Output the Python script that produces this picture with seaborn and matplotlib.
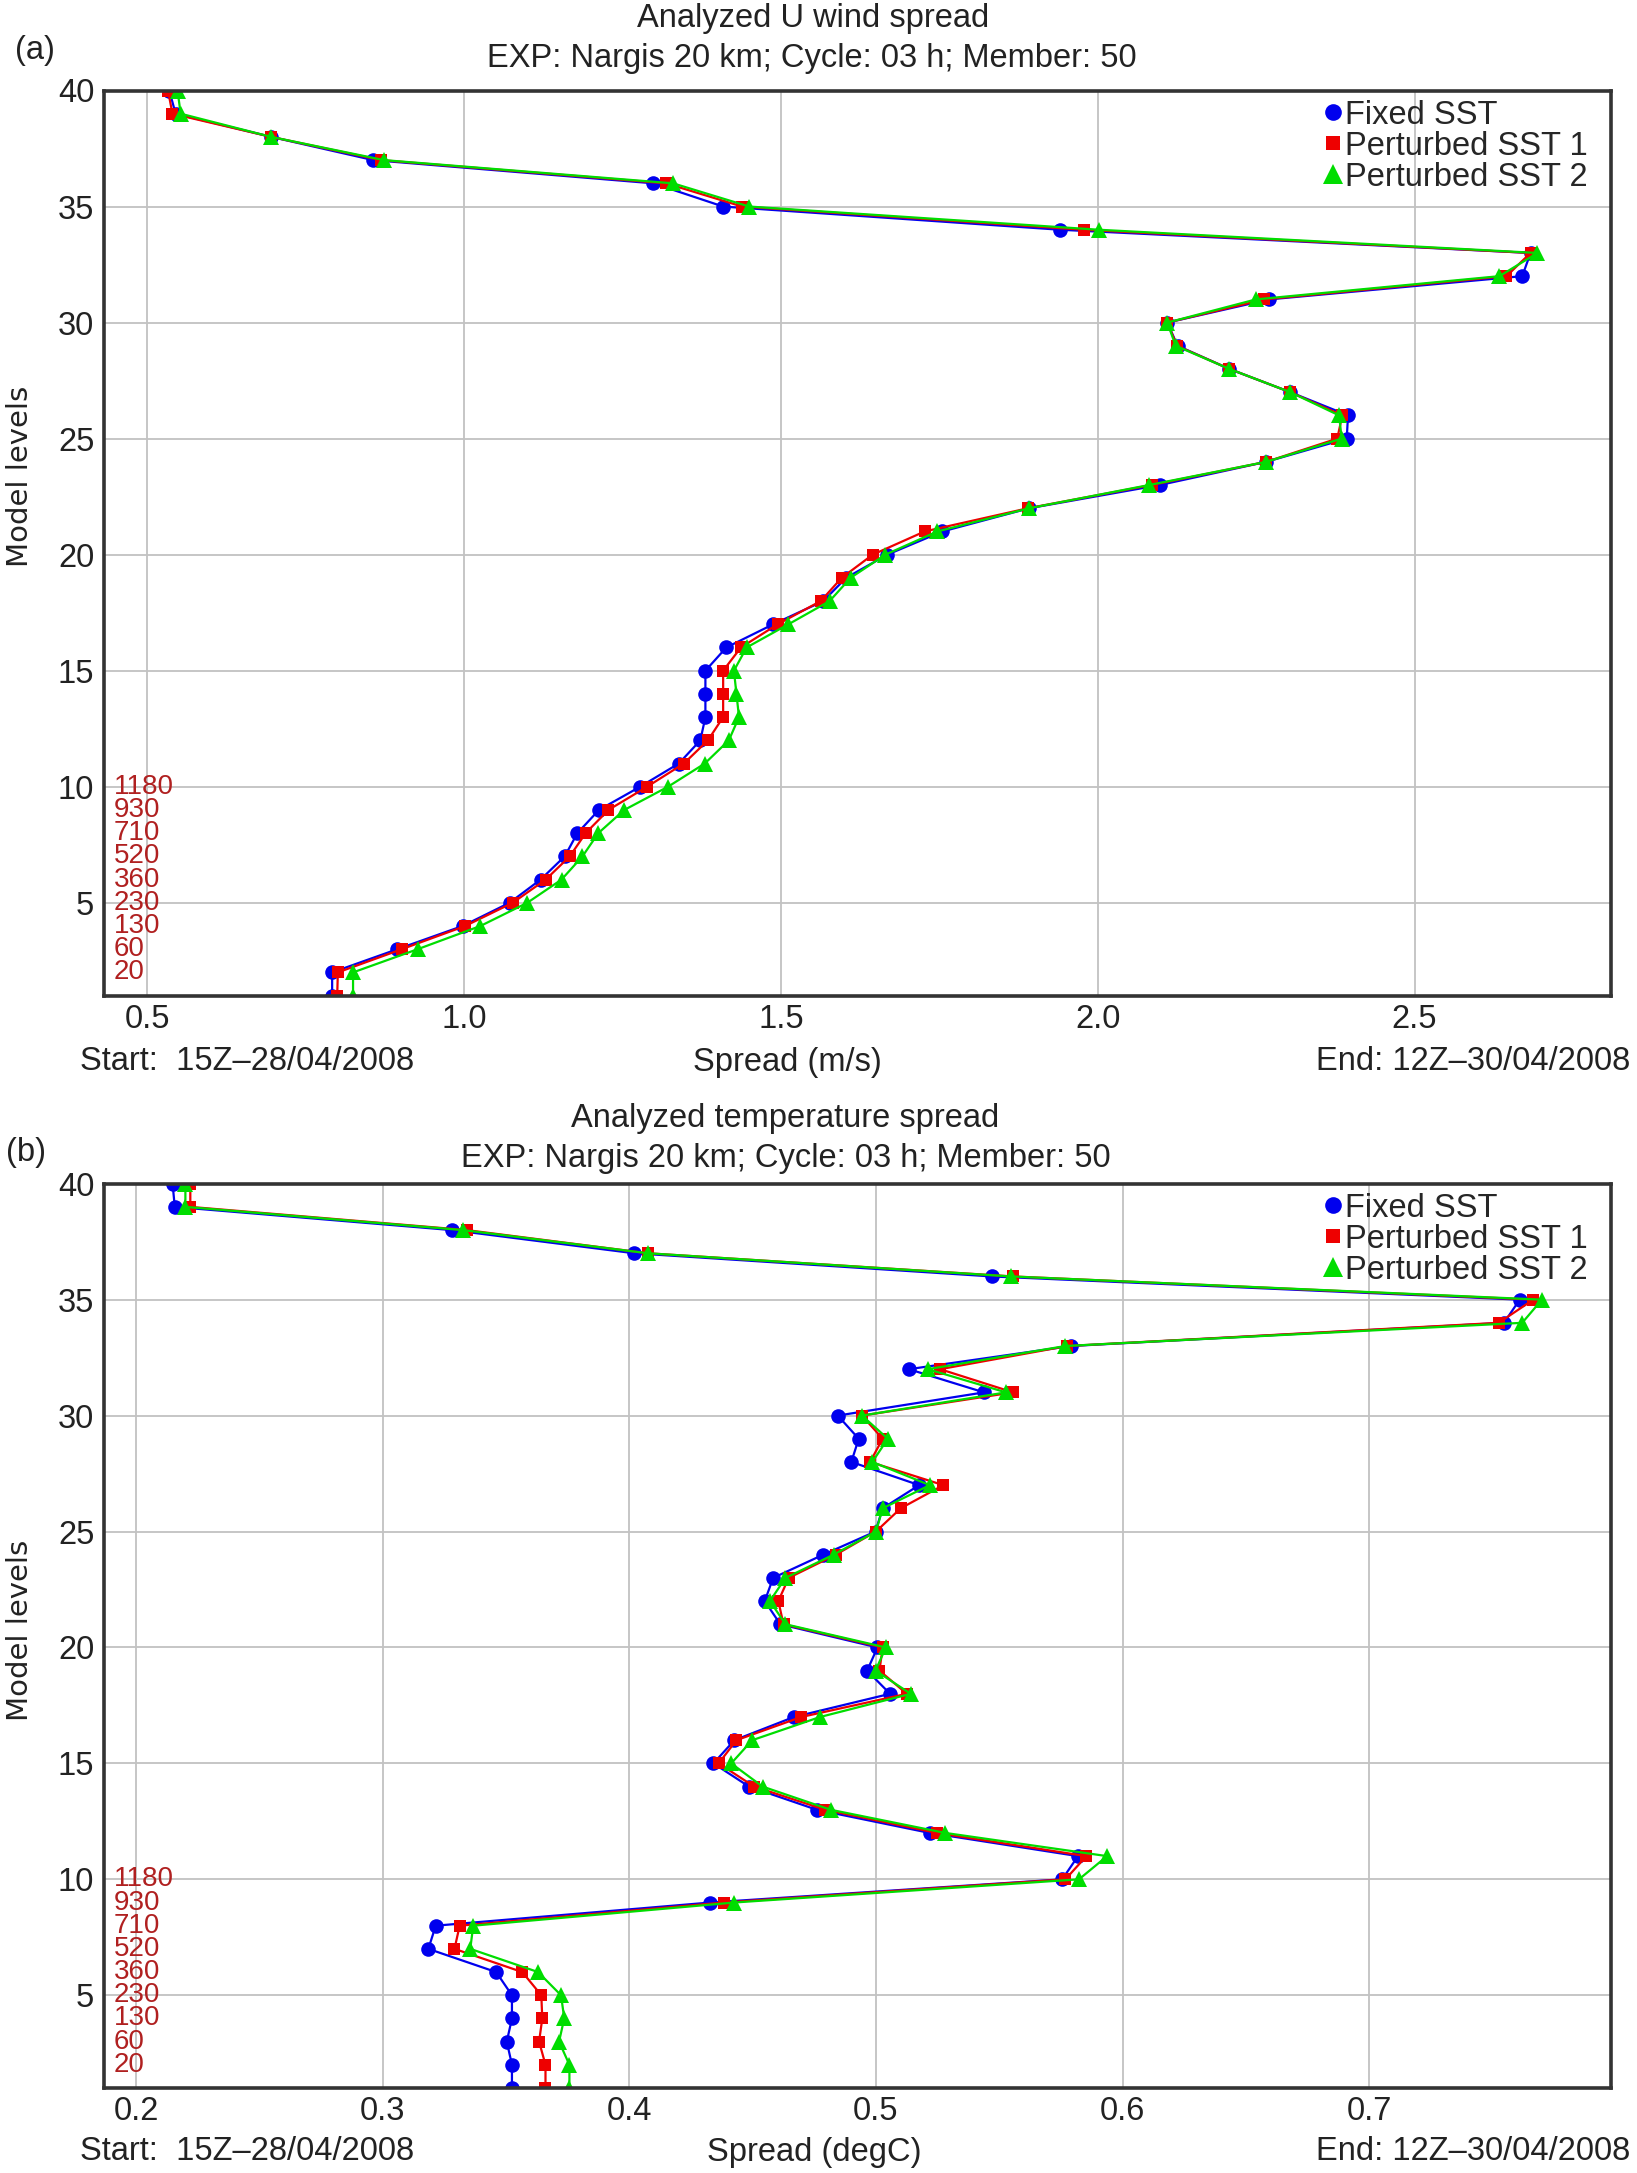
import numpy as np
import pandas as pd
import matplotlib.pyplot as plt
from matplotlib.lines import Line2D
from matplotlib import transforms
import seaborn as sns

# model levels 1..40 (bottom to top)
levels = list(range(1, 41))
run_names = ["Fixed SST", "Perturbed SST 1", "Perturbed SST 2"]

# (a) analyzed U wind spread (m/s)
u_fixed = [0.792, 0.792, 0.895, 0.998, 1.072, 1.121, 1.159, 1.179, 1.213, 1.278,
           1.339, 1.373, 1.381, 1.381, 1.381, 1.414, 1.488, 1.567, 1.603, 1.668,
           1.755, 1.892, 2.098, 2.266, 2.393, 2.395, 2.304, 2.208, 2.126, 2.110,
           2.271, 2.670, 2.683, 1.941, 1.409, 1.299, 0.857, 0.696, 0.545, 0.535]
u_pert1 = [0.800, 0.801, 0.902, 1.002, 1.077, 1.129, 1.167, 1.192, 1.228, 1.289,
           1.347, 1.385, 1.409, 1.409, 1.409, 1.437, 1.495, 1.563, 1.596, 1.645,
           1.727, 1.890, 2.085, 2.266, 2.378, 2.386, 2.304, 2.208, 2.125, 2.110,
           2.263, 2.645, 2.683, 1.978, 1.439, 1.319, 0.869, 0.696, 0.540, 0.533]
u_pert2 = [0.825, 0.825, 0.927, 1.026, 1.100, 1.154, 1.187, 1.212, 1.253, 1.322,
           1.380, 1.418, 1.434, 1.430, 1.426, 1.446, 1.512, 1.577, 1.610, 1.665,
           1.747, 1.892, 2.081, 2.266, 2.385, 2.381, 2.304, 2.208, 2.123, 2.110,
           2.250, 2.634, 2.694, 2.002, 1.450, 1.330, 0.874, 0.696, 0.553, 0.548]

# (b) analyzed temperature spread (degC)
t_fixed = [0.3524, 0.3524, 0.3503, 0.3524, 0.3524, 0.3460, 0.3185, 0.3215, 0.4329, 0.5755,
           0.5819, 0.5218, 0.4760, 0.4485, 0.4341, 0.4426, 0.4667, 0.5057, 0.4964, 0.5006,
           0.4612, 0.4549, 0.4583, 0.4786, 0.4998, 0.5027, 0.5175, 0.4900, 0.4930, 0.4845,
           0.5438, 0.5133, 0.5790, 0.7546, 0.7610, 0.5470, 0.4020, 0.3280, 0.2157, 0.2148]
t_pert1 = [0.3660, 0.3660, 0.3634, 0.3647, 0.3643, 0.3566, 0.3291, 0.3312, 0.4384, 0.5768,
           0.5853, 0.5247, 0.4794, 0.4506, 0.4362, 0.4434, 0.4697, 0.5125, 0.5014, 0.5027,
           0.4625, 0.4604, 0.4646, 0.4837, 0.5000, 0.5100, 0.5273, 0.4976, 0.5027, 0.4943,
           0.5556, 0.5260, 0.5776, 0.7525, 0.7665, 0.5556, 0.4075, 0.3340, 0.2220, 0.2220]
t_pert2 = [0.3757, 0.3757, 0.3715, 0.3736, 0.3723, 0.3630, 0.3355, 0.3367, 0.4426, 0.5823,
           0.5937, 0.5281, 0.4816, 0.4540, 0.4413, 0.4498, 0.4773, 0.5141, 0.4998, 0.5040,
           0.4633, 0.4570, 0.4633, 0.4828, 0.5000, 0.5027, 0.5218, 0.4985, 0.5048, 0.4943,
           0.5527, 0.5210, 0.5768, 0.7620, 0.7700, 0.5548, 0.4075, 0.3325, 0.2200, 0.2200]

# approximate heights (m) written next to the lowest levels
height_levels = [2, 3, 4, 5, 6, 7, 8, 9, 10]
height_labels = ["20", "60", "130", "230", "360", "520", "710", "930", "1180"]

u_ticks = [0.5, 1.0, 1.5, 2.0, 2.5]
t_ticks = [0.2, 0.3, 0.4, 0.5, 0.6, 0.7]
y_ticks = [5, 10, 15, 20, 25, 30, 35, 40]

run_colors = {"Fixed SST": "#0000ee", "Perturbed SST 1": "#ee0000", "Perturbed SST 2": "#00dd00"}
run_markers = {"Fixed SST": "o", "Perturbed SST 1": "s", "Perturbed SST 2": "^"}
run_msize = {"Fixed SST": 10.5, "Perturbed SST 1": 8.5, "Perturbed SST 2": 11.5}
legend_msize = {"Fixed SST": 12, "Perturbed SST 1": 10.5, "Perturbed SST 2": 14}

W, H = 1637, 2173
FS = 23.5

sns.set_theme(style="white")
plt.rcParams["font.family"] = ["Liberation Sans", "DejaVu Sans"]


def long_table(cols):
    frames = []
    for name, vals in zip(run_names, cols):
        frames.append(pd.DataFrame({"level": levels, "spread": vals, "run": name}))
    return pd.concat(frames, ignore_index=True)


def fx(px):
    return px / W


def fy(py):
    return 1 - py / H


def draw_panel(ax, df, xlim, xticks, fmt):
    sns.lineplot(data=df, x="spread", y="level", hue="run", style="run",
                 palette=run_colors, markers=run_markers, dashes=False,
                 sort=False, estimator=None, orient="y", linewidth=1.6,
                 markeredgewidth=0, legend=False, ax=ax)
    for line, name in zip(ax.lines, run_names):
        line.set_markersize(run_msize[name])
        line.set_markeredgecolor(run_colors[name])

    ax.set_xlim(*xlim)
    ax.set_ylim(1, 40)
    ax.set_xticks(xticks)
    ax.set_xticklabels([fmt.format(v) for v in xticks])
    ax.set_yticks(y_ticks)
    ax.set_xlabel("")
    ax.set_ylabel("")
    ax.grid(True, color="#c2c2c2", linewidth=1.3)
    ax.set_axisbelow(True)
    ax.tick_params(axis="x", length=0, pad=6, labelsize=FS, colors="#222222")
    ax.tick_params(axis="y", length=0, pad=7, labelsize=FS, colors="#222222")
    for sp in ax.spines.values():
        sp.set_visible(True)
        sp.set_color("#333333")
        sp.set_linewidth(2.6)

    trans = transforms.blended_transform_factory(ax.transAxes, ax.transData)
    for lv, lab in zip(height_levels, height_labels):
        ax.text(0.0066, lv, lab, transform=trans, ha="left", va="center",
                fontsize=20, color="#b02020")

    handles = [Line2D([], [], color=run_colors[n], marker=run_markers[n], ls="none",
                      ms=legend_msize[n], mew=0) for n in run_names]
    ax.legend(handles, run_names, loc="upper left", bbox_to_anchor=(0.81, 0.99),
              frameon=False, handlelength=0.5, handletextpad=0.12, labelspacing=0.0,
              borderpad=0, borderaxespad=0, fontsize=FS)


fig = plt.figure(figsize=(W / 100, H / 100), dpi=100)
ax_a = fig.add_axes([fx(104), fy(995.6), fx(1611) - fx(104), fy(90.5) - fy(995.6)])
ax_b = fig.add_axes([fx(104), fy(2088), fx(1611) - fx(104), fy(1183.7) - fy(2088)])

draw_panel(ax_a, long_table([u_fixed, u_pert1, u_pert2]), (0.432, 2.81), u_ticks, "{:.1f}")
draw_panel(ax_b, long_table([t_fixed, t_pert1, t_pert2]), (0.187, 0.798), t_ticks, "{:.1f}")

txt = dict(fontsize=FS, color="#222222", va="center")

# panel (a) texts
fig.text(fx(15), fy(50), "(a)", ha="left", **txt)
fig.text(fx(813), fy(19), "Analyzed U wind spread", ha="center", **txt)
fig.text(fx(812), fy(58), "EXP: Nargis 20 km; Cycle: 03 h; Member: 50", ha="center", **txt)
fig.text(fx(80), fy(1062), "Start:  15Z\u201328/04/2008", ha="left", **txt)
fig.text(fx(787), fy(1062), "Spread (m/s)", ha="center", **txt)
fig.text(fx(1630), fy(1062), "End: 12Z\u201330/04/2008", ha="right", **txt)
fig.text(fx(20), fy(476), "Model levels", rotation=90, ha="center", va="center",
         fontsize=21, color="#222222", family="DejaVu Sans")

# panel (b) texts
fig.text(fx(6), fy(1152), "(b)", ha="left", **txt)
fig.text(fx(785), fy(1119), "Analyzed temperature spread", ha="center", **txt)
fig.text(fx(786), fy(1159), "EXP: Nargis 20 km; Cycle: 03 h; Member: 50", ha="center", **txt)
fig.text(fx(80), fy(2152), "Start:  15Z\u201328/04/2008", ha="left", **txt)
fig.text(fx(814), fy(2152), "Spread (degC)", ha="center", **txt)
fig.text(fx(1630), fy(2152), "End: 12Z\u201330/04/2008", ha="right", **txt)
fig.text(fx(20), fy(1630), "Model levels", rotation=90, ha="center", va="center",
         fontsize=21, color="#222222", family="DejaVu Sans")

fig.savefig("out.png", dpi=100, facecolor="white")
